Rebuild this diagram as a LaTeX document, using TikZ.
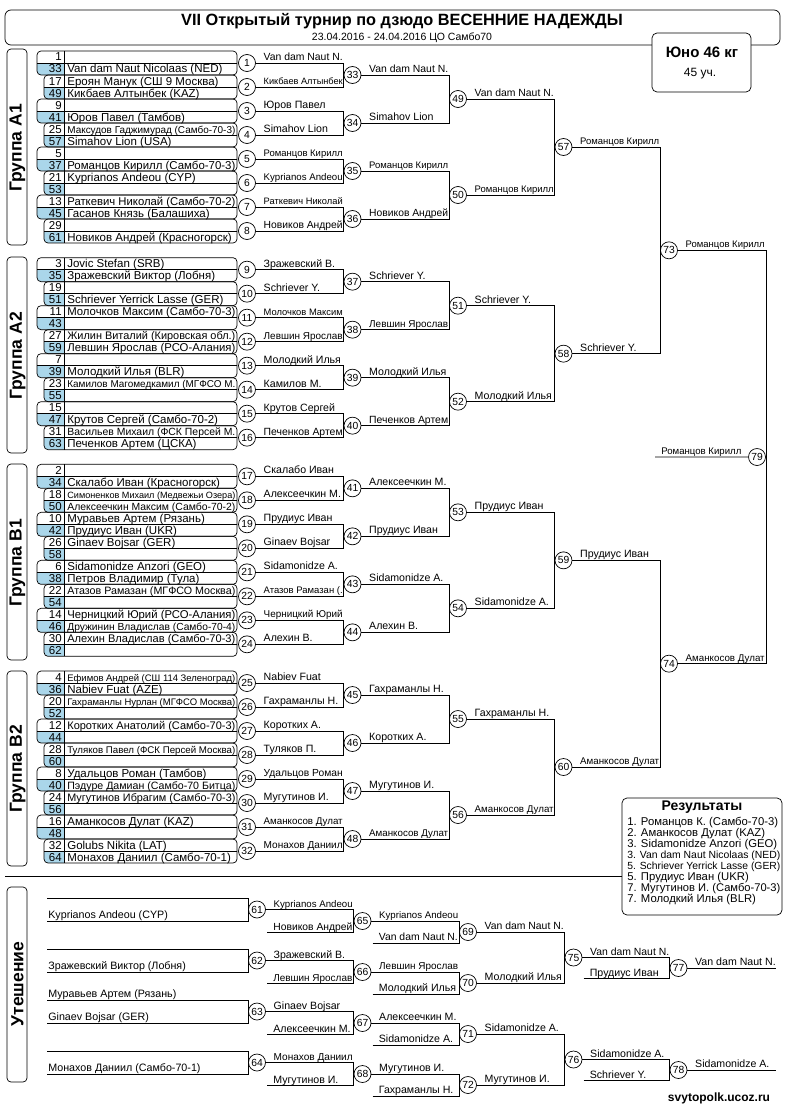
\documentclass[tikz,border=0pt]{standalone}
\usepackage{fontspec}
\setmainfont{Liberation Sans}
\usetikzlibrary{calc}

\definecolor{seedblue}{RGB}{170,214,234}
\newcommand{\fsz}[1]{\fontsize{#1}{#1}\selectfont}
% squeeze a text into a given width when it is too long
\newcommand{\fitto}[2]{\sbox0{#2}\ifdim\wd0>#1\relax\resizebox{#1}{!}{\usebox0}\else\usebox0\fi}

\begin{document}
\begin{tikzpicture}[x=1pt, y=-1pt, line width=0.7pt,
  mnum/.style={circle, draw, fill=white, minimum size=17pt, inner sep=0pt, font=\fsz{10.3}},
  wname/.style={anchor=base west, inner sep=0pt, font=\fsz{10.6}},
  ename/.style={anchor=base west, inner sep=0pt, font=\fsz{11.5}},
  enum/.style={anchor=base east, inner sep=0pt, font=\fsz{11.5}},
  grpbox/.style={draw, rounded corners=4pt},
  grplbl/.style={rotate=90, inner sep=0pt, font=\bfseries\fsz{17.5}}]
  \useasboundingbox (0,0) rectangle (787,1108);

  % header
  \draw[rounded corners=6pt] (5,10) rectangle (780,45);
  \node[font=\bfseries\fsz{16.3}] (title) at (402,21) {VII Открытый турнир по дзюдо ВЕСЕННИЕ НАДЕЖДЫ};
  \node[font=\fsz{10.5}] (date) at (402,37.5) {23.04.2016 - 24.04.2016 ЦО Самбо70};
  \draw[rounded corners=5pt, fill=white] (652,33) rectangle (751,92);
  \node[font=\bfseries\fsz{15}] (cat) at (702,52) {Юно 46 кг};
  \node[font=\fsz{12}] (cnt) at (700,74) {45 уч.};

  % group frames
  \draw[grpbox] (7,49) rectangle (27,245);
  \node[grplbl] (gA1) at (17.5,148) {Группа А1};
  \draw[grpbox] (7,257) rectangle (27,453);
  \node[grplbl] (gA2) at (17.5,356) {Группа А2};
  \draw[grpbox] (7,464) rectangle (27,660);
  \node[grplbl] (gB1) at (17.5,563) {Группа В1};
  \draw[grpbox] (7,671) rectangle (27,866);
  \node[grplbl] (gB2) at (17.5,769) {Группа В2};
  \draw[grpbox] (7,887) rectangle (27,1082);
  \node[grplbl] (gC) at (17.5,984) {Утешение};
  \draw (5,876) -- (622,876);

  % draw list, first round
  \foreach \m/\sa/\na/\sb/\nb in {
    1/1//33/Van dam Naut Nicolaas (NED),
    2/17/Ероян Манук (СШ 9 Москва)/49/Кикбаев Алтынбек (KAZ),
    3/9//41/Юров Павел (Тамбов),
    4/25/Максудов Гаджимурад (Самбо-70-3)/57/Simahov Lion (USA),
    5/5//37/Романцов Кирилл (Самбо-70-3),
    6/21/Kyprianos Andeou (CYP)/53/,
    7/13/Раткевич Николай (Самбо-70-2)/45/Гасанов Князь (Балашиха),
    8/29//61/Новиков Андрей (Красногорск),
    9/3/Jovic Stefan (SRB)/35/Зражевский Виктор (Лобня),
    10/19//51/Schriever Yerrick Lasse (GER),
    11/11/Молочков Максим (Самбо-70-3)/43/,
    12/27/Жилин Виталий (Кировская обл.)/59/Левшин Ярослав (РСО-Алания),
    13/7//39/Молодкий Илья (BLR),
    14/23/Камилов Магомедкамил (МГФСО М./55/,
    15/15//47/Крутов Сергей (Самбо-70-2),
    16/31/Васильев Михаил (ФСК Персей М./63/Печенков Артем (ЦСКА),
    17/2//34/Скалабо Иван (Красногорск),
    18/18/Симоненков Михаил (Медвежьи Озера)/50/Алексеечкин Максим (Самбо-70-2),
    19/10/Муравьев Артем (Рязань)/42/Прудиус Иван (UKR),
    20/26/Ginaev Bojsar (GER)/58/,
    21/6/Sidamonidze Anzori (GEO)/38/Петров Владимир (Тула),
    22/22/Атазов Рамазан (МГФСО Москва)/54/,
    23/14/Черницкий Юрий (РСО-Алания)/46/Дружинин Владислав (Самбо-70-4),
    24/30/Алехин Владислав (Самбо-70-3)/62/,
    25/4/Ефимов Андрей (СШ 114 Зеленоград)/36/Nabiev Fuat (AZE),
    26/20/Гахраманлы Нурлан (МГФСО Москва)/52/,
    27/12/Коротких Анатолий (Самбо-70-3)/44/,
    28/28/Туляков Павел (ФСК Персей Москва)/60/,
    29/8/Удальцов Роман (Тамбов)/40/Пэдуре Дамиан (Самбо-70 Битца),
    30/24/Мугутинов Ибрагим (Самбо-70-3)/56/,
    31/16/Аманкосов Дулат (KAZ)/48/,
    32/32/Golubs Nikita (LAT)/64/Монахов Даниил (Самбо-70-1)}{
    \pgfmathsetmacro\yc{51+206.67*floor((\m-1)/8)+24*mod(\m-1,8)+12}
    \pgfmathsetmacro\xl{isodd(\m)?37:44}
    \begin{scope}
      \clip[rounded corners=4pt] (\xl,\yc-12) rectangle (237,\yc+12);
      \fill[seedblue] (\xl,\yc) rectangle (64,\yc+12);
    \end{scope}
    \draw[rounded corners=4pt] (\xl,\yc-12) rectangle (237,\yc+12);
    \draw (\xl,\yc) -- (237,\yc) (64,\yc-12) -- (64,\yc+12);
    \node[enum] (sa\m) at (62,\yc-2) {\sa};
    \node[enum] (sb\m) at (62,\yc+10) {\sb};
    \node[ename] (na\m) at (67,\yc-2) {\fitto{168pt}{\na}};
    \node[ename] (nb\m) at (67,\yc+10) {\fitto{168pt}{\nb}};
    \node[mnum] (r\m) at (247,\yc) {\m};
  }
  \foreach \m/\w in {1/Van dam Naut N., 2/Кикбаев Алтынбек, 3/Юров Павел,
    4/Simahov Lion, 5/Романцов Кирилл, 6/Kyprianos Andeou, 7/Раткевич Николай,
    8/Новиков Андрей, 9/Зражевский В., 10/Schriever Y., 11/Молочков Максим,
    12/Левшин Ярослав, 13/Молодкий Илья, 14/Камилов М., 15/Крутов Сергей,
    16/Печенков Артем, 17/Скалабо Иван, 18/Алексеечкин М., 19/Прудиус Иван,
    20/Ginaev Bojsar, 21/Sidamonidze A., 22/Атазов Рамазан (., 23/Черницкий Юрий,
    24/Алехин В., 25/Nabiev Fuat, 26/Гахраманлы Н., 27/Коротких А., 28/Туляков П.,
    29/Удальцов Роман, 30/Мугутинов И., 31/Аманкосов Дулат, 32/Монахов Даниил}
    \node[wname] (w\m) at ($(r\m.east)+(7.5,-2.5)$) {\fitto{79pt}{\w}};

  % later rounds
  \foreach \m/\ca/\cb/\w in {33/1/2/Van dam Naut N., 34/3/4/Simahov Lion,
    35/5/6/Романцов Кирилл, 36/7/8/Новиков Андрей, 37/9/10/Schriever Y.,
    38/11/12/Левшин Ярослав, 39/13/14/Молодкий Илья, 40/15/16/Печенков Артем,
    41/17/18/Алексеечкин М., 42/19/20/Прудиус Иван, 43/21/22/Sidamonidze A.,
    44/23/24/Алехин В., 45/25/26/Гахраманлы Н., 46/27/28/Коротких А.,
    47/29/30/Мугутинов И., 48/31/32/Аманкосов Дулат,
    49/33/34/Van dam Naut N., 50/35/36/Романцов Кирилл, 51/37/38/Schriever Y.,
    52/39/40/Молодкий Илья, 53/41/42/Прудиус Иван, 54/43/44/Sidamonidze A.,
    55/45/46/Гахраманлы Н., 56/47/48/Аманкосов Дулат,
    57/49/50/Романцов Кирилл, 58/51/52/Schriever Y., 59/53/54/Прудиус Иван,
    60/55/56/Аманкосов Дулат, 73/57/58/Романцов Кирилл, 74/59/60/Аманкосов Дулат}{
    \node[mnum] (r\m) at ($(r\ca)!.5!(r\cb)+(105.5,0)$) {\m};
    \draw (r\ca.east) -| (r\m.west);
    \draw (r\cb.east) -| (r\m.west);
    \node[wname] (w\m) at ($(r\m.east)+(7.5,-2.5)$) {\fitto{79pt}{\w}};
  }

  % final
  \coordinate (fin) at ($(r73)!.5!(r74)+(97,0)$);
  \draw (r73.east) -| (fin) |- (r74.east);
  \node[mnum] (r79) at ($(fin)+(-9,0)$) {79};
  \coordinate (f0) at (655,457);
  \draw (f0) -- (r79.west);
  \node[wname] (w79) at ($(f0)+(6,-2.5)$) {\fitto{80pt}{Романцов Кирилл}};

  % results
  \draw[rounded corners=5pt] (622,798) rectangle (782,915);
  \node[font=\bfseries\fsz{14}] (res) at (702,807.5) {Результаты};
  \foreach \i/\t in {0/1. Романцов К. (Самбо-70-3), 1/2. Аманкосов Дулат (KAZ),
    2/3. Sidamonidze Anzori (GEO), 3/3. Van dam Naut Nicolaas (NED),
    4/5. Schriever Yerrick Lasse (GER), 5/5. Прудиус Иван (UKR),
    6/7. Мугутинов И. (Самбо-70-3), 7/7. Молодкий Илья (BLR)}
    \node[wname, font=\fsz{11.3}] (res\i) at (627,825+11*\i) {\fitto{153pt}{\t}};

  % consolation, first column
  \foreach \m/\y/\ta/\tb/\w in {61/909.5//Kyprianos Andeou (CYP)/Kyprianos Andeou,
    62/960.5//Зражевский Виктор (Лобня)/Зражевский В.,
    63/1011.5/Муравьев Артем (Рязань)/Ginaev Bojsar (GER)/Ginaev Bojsar,
    64/1062.5//Монахов Даниил (Самбо-70-1)/Монахов Даниил}{
    \node[mnum] (r\m) at (257,\y) {\m};
    \coordinate (ua\m) at (47,\y-11.5);
    \coordinate (ub\m) at (47,\y+11.5);
    \draw (ua\m) -| (r\m.west);
    \draw (ub\m) -| (r\m.west);
    \node[wname, font=\fsz{10.7}] (ta\m) at ($(ua\m)+(1,-2.5)$) {\fitto{195pt}{\ta}};
    \node[wname, font=\fsz{10.7}] (tb\m) at ($(ub\m)+(1,-2.5)$) {\fitto{195pt}{\tb}};
    \node[wname] (w\m) at ($(r\m.east)+(7.5,-2.5)$) {\fitto{79pt}{\w}};
  }
  % consolation, one bout coming from the left
  \foreach \m/\ca/\gap/\lo/\w in {65/61/23/Новиков Андрей/Kyprianos Andeou,
    66/62/23/Левшин Ярослав/Левшин Ярослав, 67/63/23/Алексеечкин М./Алексеечкин М.,
    68/64/23/Мугутинов И./Мугутинов И., 69/65/22/Van dam Naut N./Van dam Naut N.,
    70/66/22/Молодкий Илья/Молодкий Илья, 71/67/22/Sidamonidze A./Sidamonidze A.,
    72/68/22/Гахраманлы Н./Мугутинов И.}{
    \coordinate (lo\m) at ($(r\ca)+(10,\gap)$);
    \node[mnum] (r\m) at ($(r\ca)+(105.5,\gap/2)$) {\m};
    \draw (r\ca.east) -| (r\m.west);
    \draw (lo\m) -| (r\m.west);
    \node[wname] (l\m) at ($(lo\m)+(6,-2.5)$) {\fitto{79pt}{\lo}};
    \node[wname] (w\m) at ($(r\m.east)+(7.5,-2.5)$) {\fitto{79pt}{\w}};
  }
  \foreach \m/\ca/\cb/\w in {75/69/70/Van dam Naut N., 76/71/72/Sidamonidze A.}{
    \node[mnum] (r\m) at ($(r\ca)!.5!(r\cb)+(105.5,0)$) {\m};
    \draw (r\ca.east) -| (r\m.west);
    \draw (r\cb.east) -| (r\m.west);
    \node[wname] (w\m) at ($(r\m.east)+(7.5,-2.5)$) {\fitto{79pt}{\w}};
  }
  \foreach \m/\ca/\lo/\w in {77/75/Прудиус Иван/Van dam Naut N.,
    78/76/Schriever Y./Sidamonidze A.}{
    \coordinate (lo\m) at ($(r\ca)+(10,21)$);
    \node[mnum] (r\m) at ($(r\ca)+(105,10.5)$) {\m};
    \draw (r\ca.east) -| (r\m.west);
    \draw (lo\m) -| (r\m.west);
    \node[wname] (l\m) at ($(lo\m)+(6,-2.5)$) {\fitto{79pt}{\lo}};
    \coordinate (end\m) at ($(r\m)+(97,0)$);
    \draw (r\m.east) -- (end\m);
    \node[wname] (w\m) at ($(r\m.east)+(7.5,-2.5)$) {\fitto{85pt}{\w}};
  }

  % site mark
  \node[font=\bfseries\fsz{12}] (site) at (719,1098) {\fitto{112pt}{svytopolk.ucoz.ru}};
\end{tikzpicture}
\end{document}
